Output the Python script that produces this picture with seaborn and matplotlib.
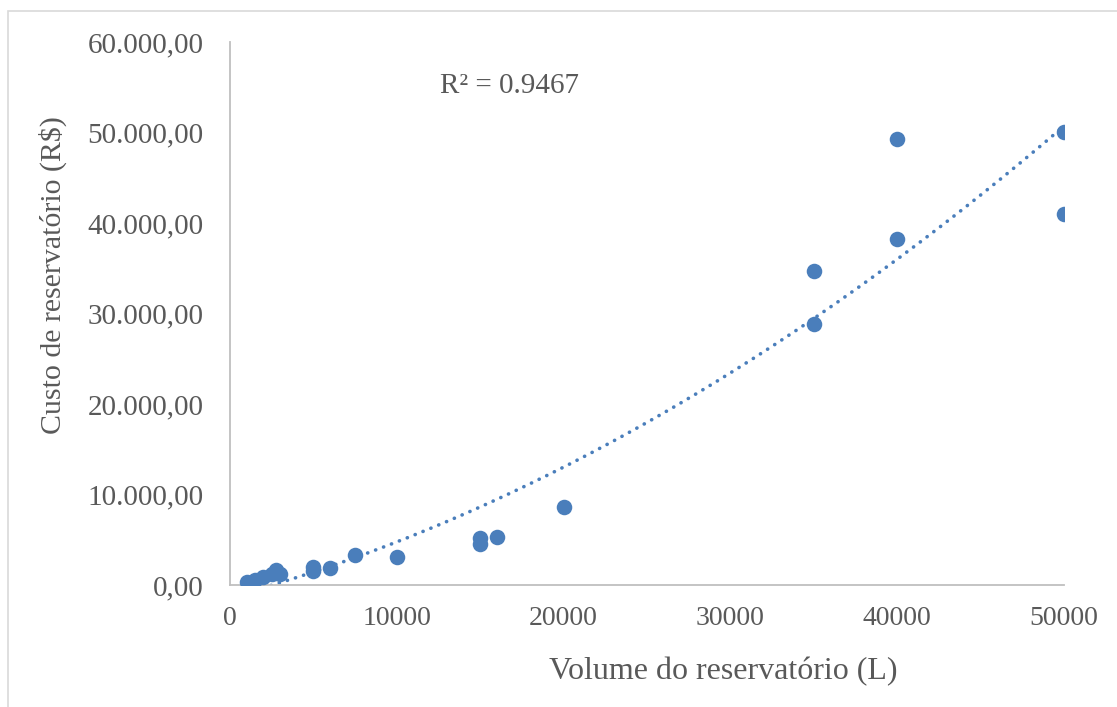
import numpy as np
import pandas as pd
import matplotlib
matplotlib.use("Agg")
import matplotlib.pyplot as plt
import seaborn as sns
from matplotlib.patches import Rectangle
from matplotlib.ticker import FuncFormatter

volume = [1000, 1500, 2000, 2500, 2750, 3000, 5000, 5000, 6000, 7500, 10000,
          15000, 15000, 16000, 20000, 35000, 35000, 40000, 40000, 50000, 50000]
custo = [350, 600, 850, 1200, 1650, 1200, 2000, 1550, 1900, 3300, 3100,
         5150, 4550, 5300, 8600, 34700, 28800, 49300, 38200, 50100, 41000]
x_ticks = [0, 10000, 20000, 30000, 40000, 50000]
y_ticks = [0, 10000, 20000, 30000, 40000, 50000, 60000]
r2_text = "R² = 0.9467"

sns.set_theme(style="white")
plt.rcParams['font.family'] = ['Liberation Serif', 'DejaVu Serif']

W, H = 1117, 707
fig = plt.figure(figsize=(W / 100, H / 100), dpi=100)
ax = fig.add_axes([230 / W, 1 - 585 / H, (1064 - 230) / W, (585 - 42) / H])

df = pd.DataFrame({"volume": volume, "custo": custo})
color = "#4A7EBB"
text_color = "#595959"

# polynomial (order 2) trendline
coef = np.polyfit(df["volume"], df["custo"], 2)
xs = np.linspace(min(volume), max(volume), 200)
trend = pd.DataFrame({"volume": xs, "custo": np.polyval(coef, xs)})
sns.lineplot(data=trend, x="volume", y="custo", ax=ax, color=color,
             linewidth=2.6, linestyle=(0, (0.05, 2.3)), dash_capstyle="round",
             zorder=2)

sns.scatterplot(data=df, x="volume", y="custo", ax=ax, color=color, s=125,
                edgecolor=color, linewidth=0, zorder=3)

ax.set_xlim(0, 50000)
ax.set_ylim(0, 60000)
ax.set_xticks(x_ticks)
ax.set_yticks(y_ticks)

def fmt_br(v, pos):
    s = f"{v:,.2f}"
    return s.replace(",", "X").replace(".", ",").replace("X", ".")

ax.yaxis.set_major_formatter(FuncFormatter(fmt_br))
ax.xaxis.set_major_formatter(FuncFormatter(lambda v, p: f"{int(v)}"))
ax.tick_params(axis="both", length=0, labelcolor=text_color)
ax.tick_params(axis="y", pad=19, labelsize=21)
ax.tick_params(axis="x", pad=15, labelsize=20)

for side in ["top", "right"]:
    ax.spines[side].set_visible(False)
for side in ["left", "bottom"]:
    ax.spines[side].set_color("#BFBFBF")
    ax.spines[side].set_linewidth(1.3)
ax.grid(False)
ax.set_xlabel("")
ax.set_ylabel("")

fig.text(723 / W, 1 - 672 / H, "Volume do reservatório (L)", ha="center",
         va="center", fontsize=23, color=text_color)
fig.text(53 / W, 1 - 275 / H, "Custo de reservatório (R$)", ha="center",
         va="center", rotation=90, fontsize=21.5, color=text_color)
fig.text(510 / W, 1 - 86 / H, r2_text, ha="center", va="center",
         fontsize=21, color=text_color)

# chart border
fig.patches.append(Rectangle((8 / W, -0.1), 1.2, 1 - 11 / H + 0.1,
                             transform=fig.transFigure, fill=False,
                             edgecolor="#D9D9D9", linewidth=1.2))

fig.savefig("out.png", dpi=100, facecolor="white")
